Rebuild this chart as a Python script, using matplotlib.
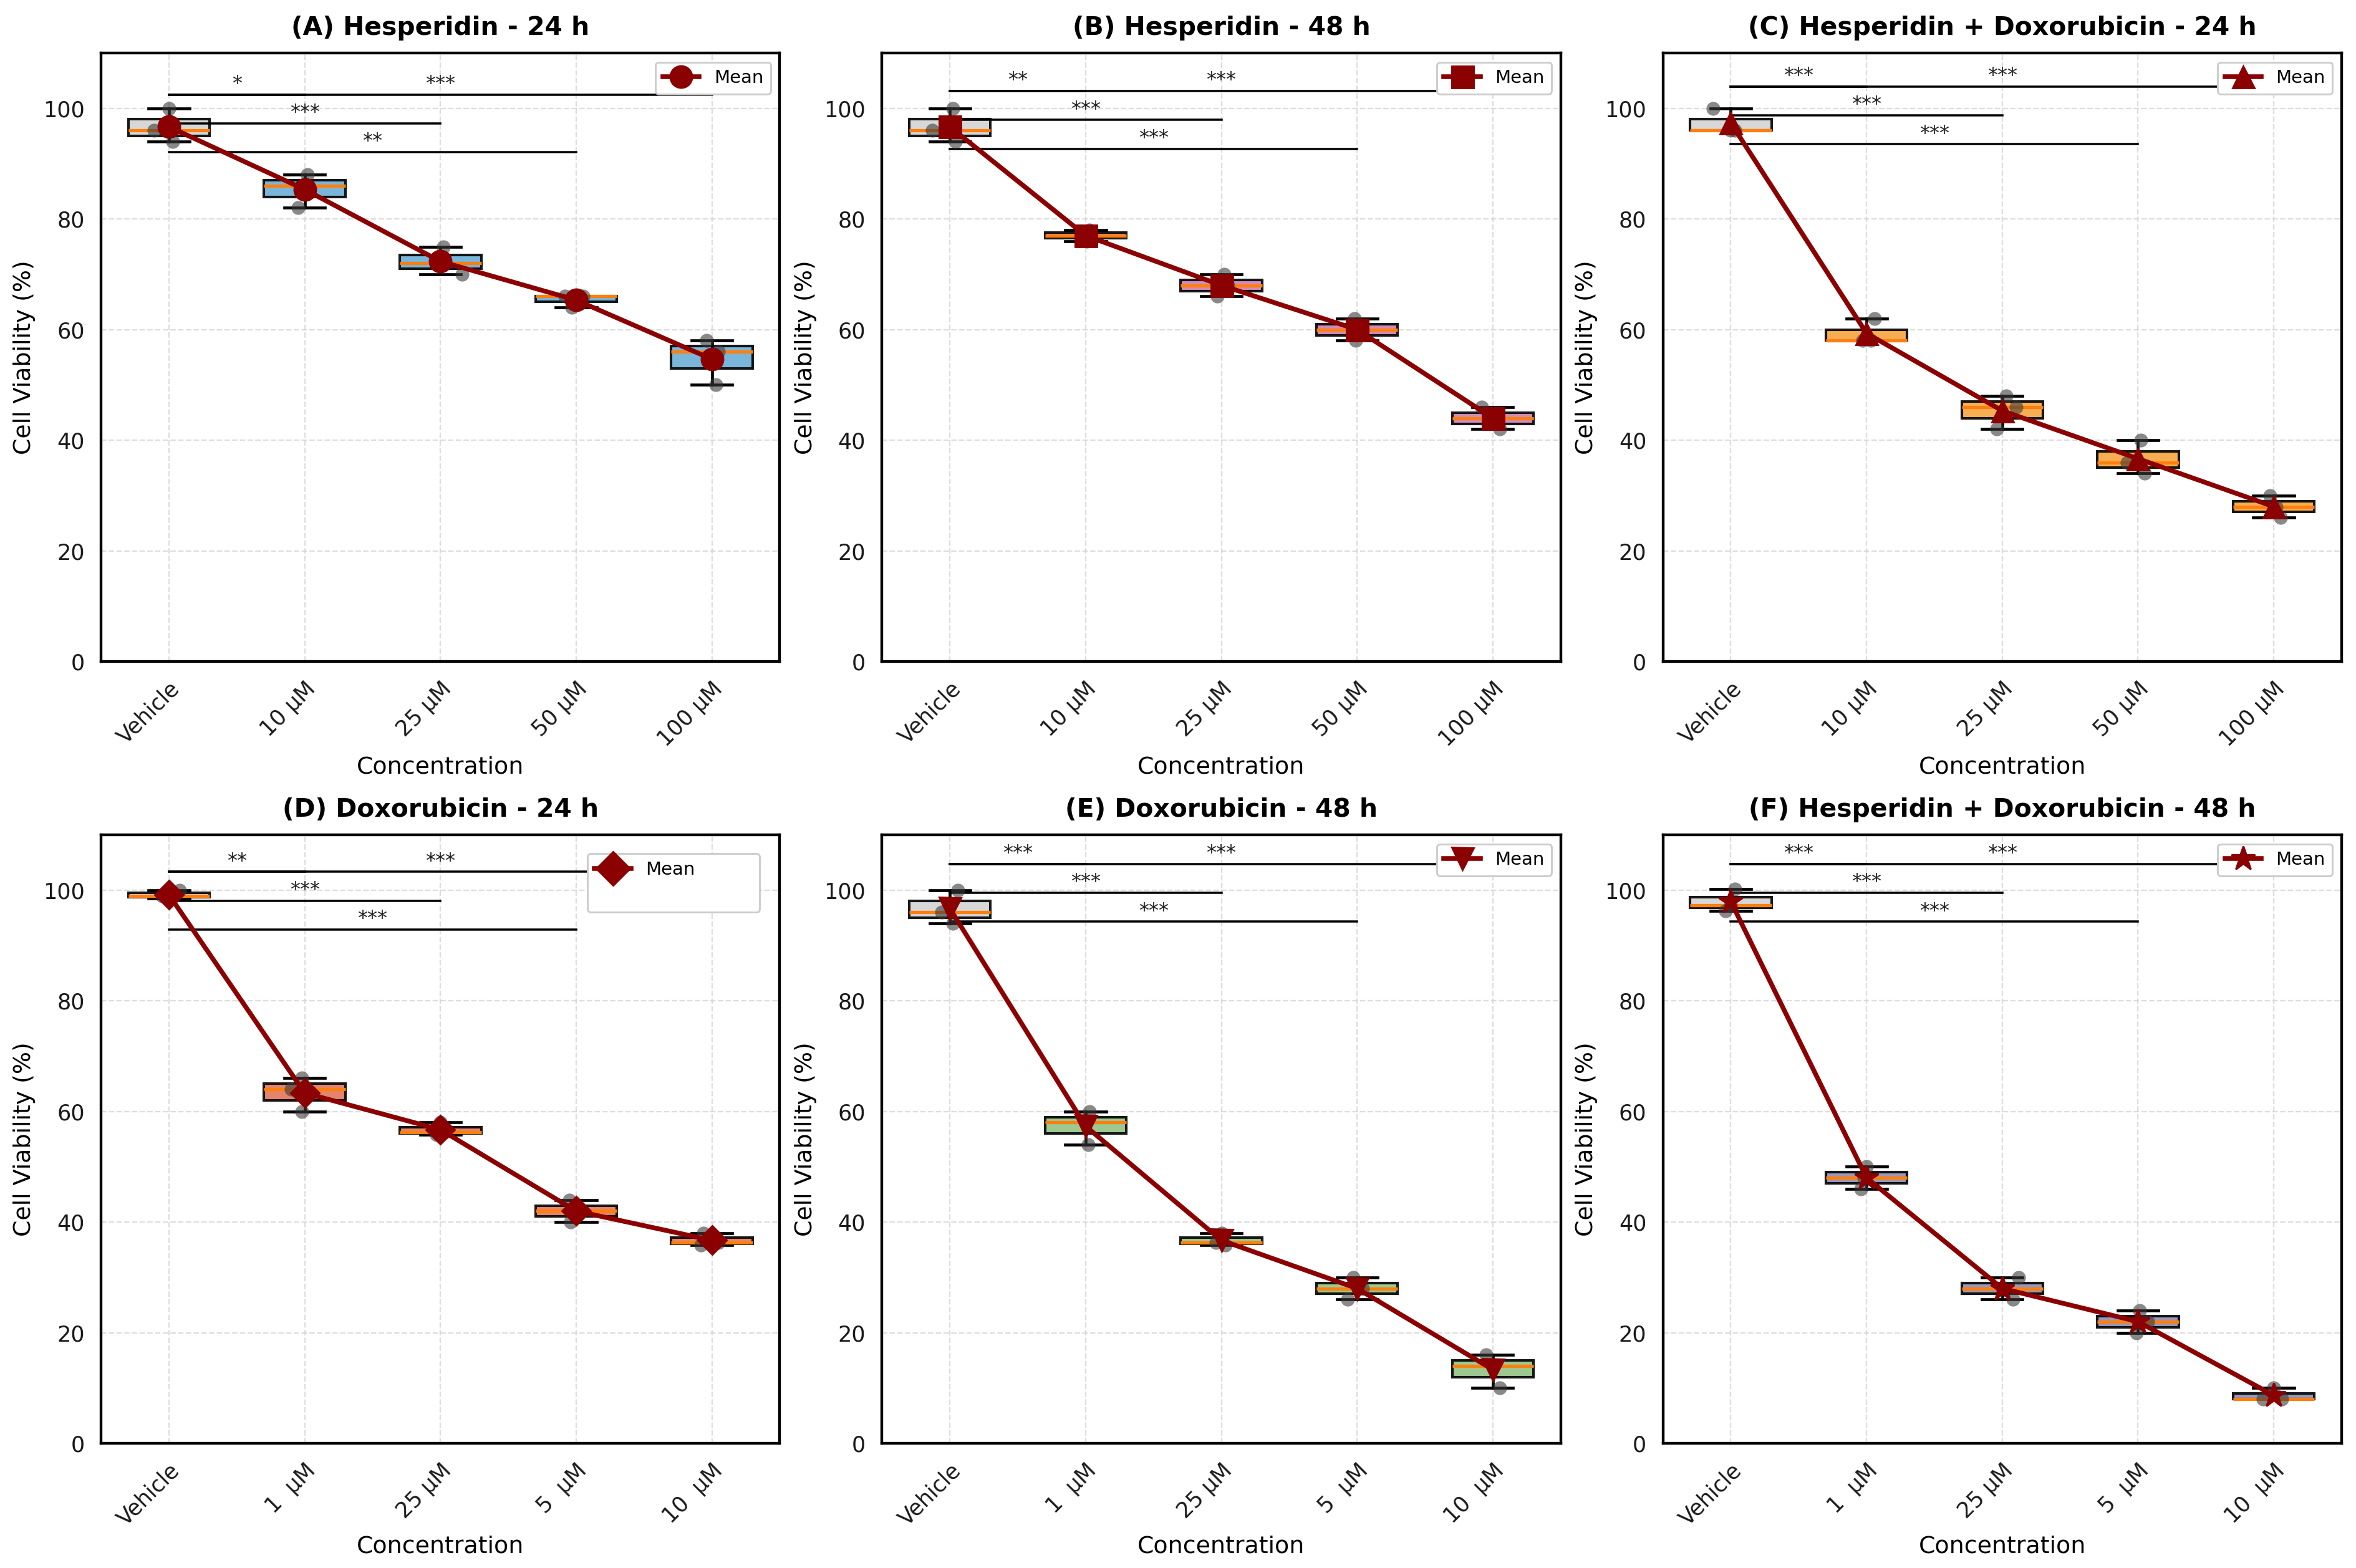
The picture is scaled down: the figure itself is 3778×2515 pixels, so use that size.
import numpy as np
import matplotlib
matplotlib.use('Agg')
import matplotlib.pyplot as plt
from matplotlib.lines import Line2D

# Leituras dos valores (3 réplicas por grupo)
titles = ['(A) Hesperidin - 24 h', '(B) Hesperidin - 48 h',
          '(C) Hesperidin + Doxorubicin - 24 h', '(D) Doxorubicin - 24 h',
          '(E) Doxorubicin - 48 h', '(F) Hesperidin + Doxorubicin - 48 h']

hes_labels = ['Vehicle', '10 µM', '25 µM', '50 µM', '100 µM']
dox_labels = ['Vehicle', '1  µM', '25 µM', '5  µM', '10  µM']

hes_24 = [[100, 96, 94], [88, 82, 86], [75, 70, 72], [66, 66, 64], [58, 56, 50]]
hes_48 = [[100, 96, 94], [78, 77, 76], [70, 68, 66], [62, 60, 58], [46, 44, 42]]
combo_24 = [[100, 96, 96], [62, 58, 58], [48, 46, 42], [40, 36, 34], [30, 28, 26]]
dox_24 = [[100, 99, 98.5], [66, 64, 60], [58, 56.3, 55.8], [44, 42, 40], [38, 36.3, 35.8]]
dox_48 = [[100, 96, 94], [60, 58, 54], [38, 36.3, 35.8], [30, 28, 26], [16, 14, 10]]
combo_48 = [[100.2, 97.3, 96.3], [50, 48, 46], [30, 28, 26], [24, 22, 20], [10, 8, 8]]

# deslocamento horizontal dos pontos individuais
hes_24_dx = [[0.0, -0.11, 0.03], [0.02, -0.05, 0.0], [0.02, 0.16, -0.02], [-0.08, 0.05, -0.03], [-0.04, 0.05, 0.03]]
hes_48_dx = [[0.02, -0.13, 0.04], [0.03, -0.02, 0.01], [0.02, 0.05, -0.03], [-0.02, 0.04, -0.01], [-0.08, 0.02, 0.05]]
combo_24_dx = [[-0.13, 0.0, 0.03], [0.06, -0.03, 0.03], [0.03, 0.1, -0.04], [0.02, -0.08, 0.05], [-0.03, 0.02, 0.05]]
dox_24_dx = [[0.08, -0.05, 0.0], [-0.02, -0.1, -0.02], [0.0, 0.03, -0.03], [-0.05, 0.03, -0.04], [-0.06, 0.05, -0.08]]
dox_48_dx = [[0.06, -0.06, 0.02], [0.03, 0.0, 0.02], [0.0, -0.04, 0.03], [-0.03, 0.04, -0.07], [-0.05, 0.0, 0.05]]
combo_48_dx = [[0.03, 0.0, -0.04], [0.0, -0.02, -0.04], [0.12, 0.0, 0.08], [0.01, 0.07, -0.01], [0.0, -0.08, 0.06]]

# significância vs Vehicle: (0,1), (0,2), (0,3), (0,4)
hes_24_sig = ['*', '***', '**', '***']
hes_48_sig = ['**', '***', '***', '***']
combo_24_sig = ['***', '***', '***', '***']
dox_24_sig = ['**', '***', '***', '***']
dox_48_sig = ['***', '***', '***', '***']
combo_48_sig = ['***', '***', '***', '***']

# altura da barra superior de significância
bar_top = [102.5, 103.1, 103.9, 103.3, 104.7, 104.7]

panels = [
    (hes_24, hes_24_dx, hes_24_sig, hes_labels, '#6aaed6', 'o', 12),
    (hes_48, hes_48_dx, hes_48_sig, hes_labels, '#cc7fb0', 's', 12),
    (combo_24, combo_24_dx, combo_24_sig, hes_labels, '#f7a540', '^', 12),
    (dox_24, dox_24_dx, dox_24_sig, dox_labels, '#e2775c', 'D', 11),
    (dox_48, dox_48_dx, dox_48_sig, dox_labels, '#93c283', 'v', 12),
    (combo_48, combo_48_dx, combo_48_sig, dox_labels, '#8c8db3', '*', 14),
]

plt.rcParams['font.family'] = 'DejaVu Sans'

fig = plt.figure(figsize=(3778 / 210, 2515 / 210), dpi=210)
axes = fig.subplots(2, 3)
fig.subplots_adjust(left=0.0429, right=0.9939, top=0.9662, bottom=0.0795,
                    wspace=0.1507, hspace=0.2848)

for k, ax in enumerate(axes.flat):
    data, dx, sig, labels, color, marker, msize = panels[k]
    pos = np.arange(len(data))

    ax.grid(True, linestyle='--', linewidth=0.8, color='#d0d0d0', alpha=0.7)
    ax.set_axisbelow(True)

    bp = ax.boxplot(data, positions=pos, widths=0.6, patch_artist=True,
                    showfliers=False,
                    medianprops=dict(color='#ff7f0e', linewidth=1.8),
                    whiskerprops=dict(color='black', linewidth=1.6),
                    capprops=dict(color='black', linewidth=1.6),
                    boxprops=dict(edgecolor='black', linewidth=1.4))
    for i, patch in enumerate(bp['boxes']):
        patch.set_facecolor('#d3d3d3' if i == 0 else color)
        patch.set_alpha(0.9)

    for i, vals in enumerate(data):
        ax.scatter(i + np.array(dx[i]), vals, s=58, color='#3a3a3a',
                   alpha=0.6, zorder=3, linewidths=0)

    means = [np.mean(v) for v in data]
    ax.plot(pos, means, color='#8b0000', linewidth=2.6, marker=marker,
            markersize=msize, label='Mean', zorder=4)

    # barras de significância
    levels = [bar_top[k] - 5.2 * j for j in range(3)]
    for j, s in enumerate(sig):
        y = levels[j % 3]
        x1 = j + 1
        ax.plot([0, x1], [y, y], color='black', linewidth=1.2, zorder=2)
        ax.text(x1 / 2, y + 0.2, s, ha='center', va='bottom', fontsize=11,
                color='#222222')

    ax.set_xlim(-0.5, 4.5)
    ax.set_ylim(0, 110)
    ax.set_yticks([0, 20, 40, 60, 80, 100])
    ax.set_xticks(pos)
    ax.set_xticklabels(labels, rotation=45, ha='right', rotation_mode='anchor')
    ax.tick_params(axis='both', length=0, labelsize=12, pad=9, colors='#1a1a1a')
    for sp in ax.spines.values():
        sp.set_linewidth(1.5)
        sp.set_color('black')

    ax.set_title(titles[k], fontsize=14, fontweight='bold', pad=10)
    ax.set_xlabel('Concentration', fontsize=13, labelpad=3)
    ax.set_ylabel('Cell Viability (%)', fontsize=13, labelpad=4)

    if k == 3:
        h, l = ax.get_legend_handles_labels()
        blank = Line2D([], [], linestyle='none')
        ax.legend(h + [blank], l + [''], loc='upper left',
                  bbox_to_anchor=(0.703, 0.888, 0.281, 0.096), mode='expand',
                  fontsize=10, markerscale=1.2, frameon=True,
                  edgecolor='#cccccc', framealpha=1)
    else:
        ax.legend(loc='upper right', fontsize=10, frameon=True,
                  edgecolor='#cccccc', framealpha=1)

fig.savefig('out.png', dpi=210)
